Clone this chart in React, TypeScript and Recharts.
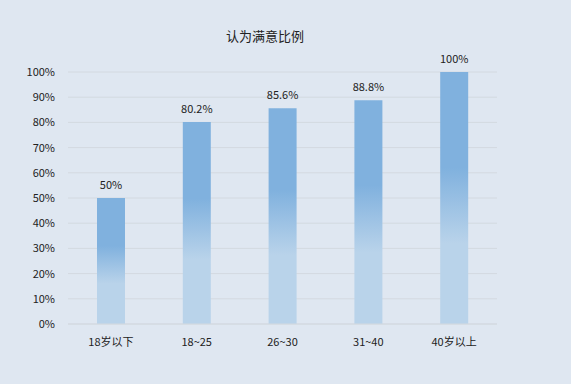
import { BarChart, Bar, XAxis, YAxis, CartesianGrid, LabelList } from "recharts";

const categories = ["18岁以下", "18~25", "26~30", "31~40", "40岁以上"];
const satisfied = [50, 80.2, 85.6, 88.8, 100];
const yTicks = [0, 10, 20, 30, 40, 50, 60, 70, 80, 90, 100];

const data = categories.map((name, i) => ({ name, value: satisfied[i] }));

const font = '"Noto Sans CJK SC", "Microsoft YaHei", sans-serif';

const App = () => {
  return (
    <div
      style={{
        position: "absolute",
        top: 0,
        left: 0,
        width: 571,
        height: 384,
        background: "#dfe7f1",
        fontFamily: font,
      }}
    >
      <div
        style={{
          position: "absolute",
          top: 26,
          left: 0,
          width: 530,
          textAlign: "center",
          fontSize: 13,
          color: "#222",
        }}
      >
        认为满意比例
      </div>
      <BarChart
        width={571}
        height={384}
        data={data}
        margin={{ top: 72, right: 74, left: 0, bottom: 30 }}
        barSize={28}
      >
        <defs>
          <linearGradient id="barFill" x1="0" y1="0" x2="0" y2="1">
            <stop offset="38%" stopColor="#80b1de" />
            <stop offset="68%" stopColor="#b9d3ea" />
          </linearGradient>
        </defs>
        <CartesianGrid vertical={false} stroke="#d3d9e0" />
        <XAxis
          dataKey="name"
          axisLine={{ stroke: "#d3d9e0" }}
          tickLine={false}
          tickMargin={8}
          tick={{ fontSize: 11, fill: "#222", fontFamily: font }}
        />
        <YAxis
          width={68}
          domain={[0, 100]}
          ticks={yTicks}
          interval={0}
          axisLine={false}
          tickLine={false}
          tickMargin={7}
          tickFormatter={(v: number) => `${v}%`}
          tick={{ fontSize: 11, fill: "#222", fontFamily: font }}
        />
        <Bar dataKey="value" fill="url(#barFill)" isAnimationActive={false}>
          <LabelList
            dataKey="value"
            position="top"
            offset={9}
            formatter={(v: number) => `${v}%`}
            style={{ fontSize: 11, fill: "#222", fontFamily: font }}
          />
        </Bar>
      </BarChart>
    </div>
  );
};

export default App;
